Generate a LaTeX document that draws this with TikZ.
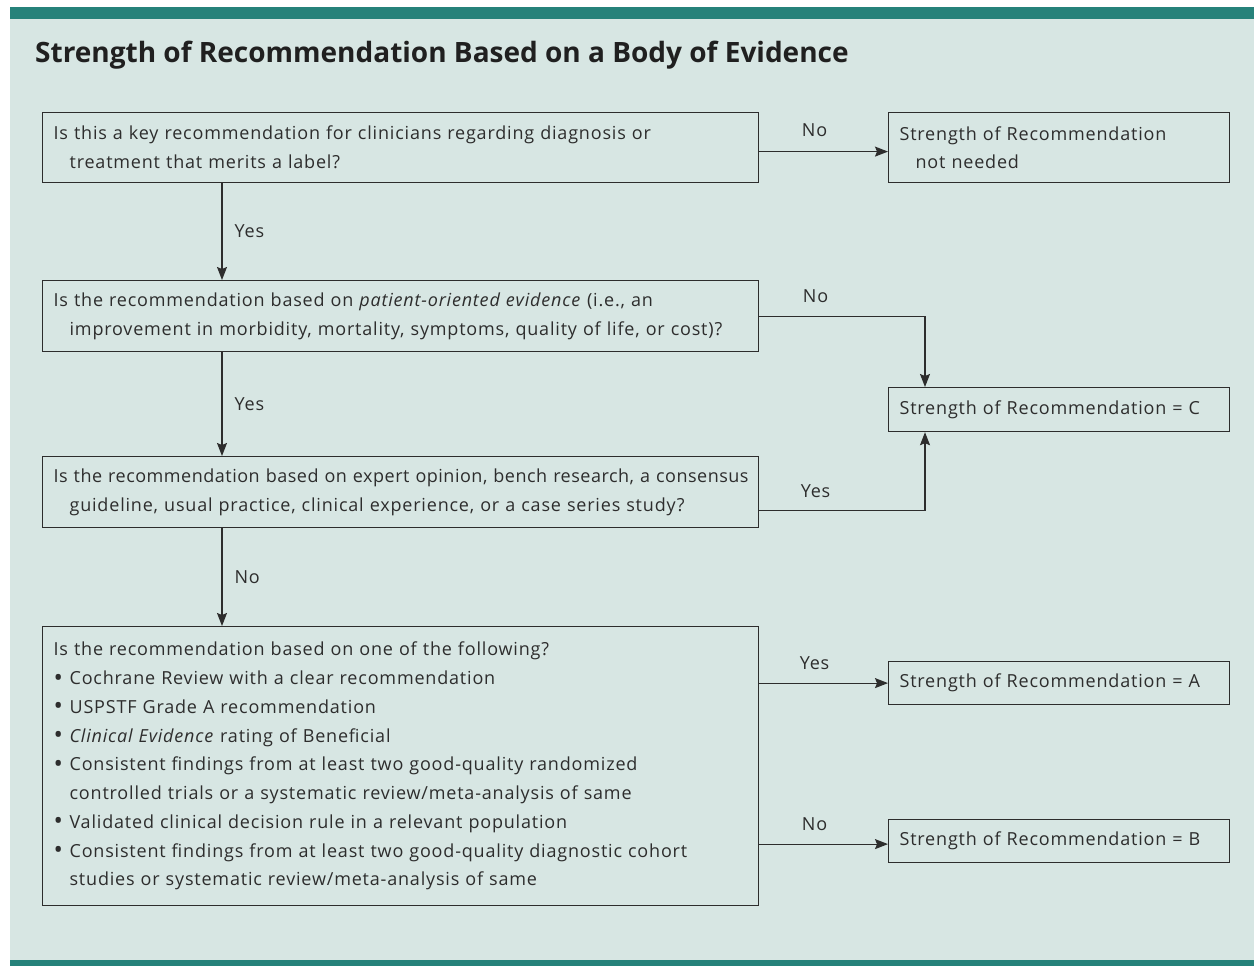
\documentclass[tikz,border=0pt]{standalone}
\usepackage{fontspec}
\setmainfont{Open Sans}
\newfontfamily\bodyfont[LetterSpace=4.5]{Open Sans}
\newfontfamily\tightfont[LetterSpace=2.8]{Open Sans}
\usetikzlibrary{positioning,arrows.meta}
\definecolor{panelbg}{RGB}{215,230,227}
\definecolor{barteal}{RGB}{38,130,122}
\definecolor{ink}{RGB}{45,45,45}
\newcommand{\bul}{\makebox[16pt][l]{\raisebox{-1.5pt}{\fontsize{25}{0}\selectfont\textbullet}}}
\newcommand{\ind}{\hspace*{16pt}}

\begin{document}
\begin{tikzpicture}[
    x=1pt, y=-1pt,
    box/.style={draw=ink, line width=1.2pt, anchor=north west, align=left, text=ink,
      inner xsep=11pt, inner ysep=0pt, font=\bodyfont\fontsize{18}{28.75}\selectfont},
    qbox/.style={box, text width=694pt, minimum height=71pt},
    sbox/.style={box, text width=319pt, minimum height=43pt},
    lbl/.style={inner sep=0pt, text=ink, font=\bodyfont\fontsize{18}{20}\selectfont},
    arr/.style={-{Stealth[length=13pt,width=10pt,inset=2pt]}, draw=ink, line width=1.2pt}
  ]
    \useasboundingbox (0,0) rectangle (1254,966);
    \fill[panelbg] (10,7) rectangle (1254,966);
    \fill[barteal] (10,7) rectangle (1254,19);
    \fill[barteal] (10,960) rectangle (1254,966);

    \node[anchor=base west, inner sep=0pt, text=ink!70!black, font=\fontsize{28}{32}\selectfont\bfseries] (title) at (35,63)
      {Strength of Recommendation Based on a Body of Evidence};

    % questions
    \node[qbox, minimum height=70pt] (q1) at (42,112)
      {Is this a key recommendation for clinicians regarding diagnosis or\\
       \ind treatment that merits a label?};
    \node[qbox] (q2) at (42,280)
      {Is the recommendation based on \textit{patient-oriented evidence} (i.e., an\\
       \ind improvement in morbidity, mortality, symptoms, quality of life, or cost)?};
    \node[qbox] (q3) at (42,456)
      {\mbox{\tightfont\fontsize{18}{28.75}\selectfont Is the recommendation based on expert opinion, bench research, a consensus}\\
       \ind guideline, usual practice, clinical experience, or a case series study?};
    \node[qbox, minimum height=279pt] (q4) at (42,626)
      {Is the recommendation based on one of the following?\\
       \bul Cochrane Review with a clear recommendation\\
       \bul USPSTF Grade A recommendation\\
       \bul \textit{Clinical Evidence} rating of Beneficial\\
       \bul Consistent findings from at least two good-quality randomized\\
       \ind controlled trials or a systematic review/meta-analysis of same\\
       \bul Validated clinical decision rule in a relevant population\\
       \bul Consistent findings from at least two good-quality diagnostic cohort\\
       \ind studies or systematic review/meta-analysis of same};

    % outcomes
    \node[sbox, minimum height=70pt] (none) at (888,112)
      {Strength of Recommendation\\ \ind not needed};
    \node[sbox, minimum height=44pt] (sorc) at (888,387) {Strength of Recommendation = C};
    \node[sbox] (sora) at (888,661) {Strength of Recommendation = A};
    \node[sbox] (sorb) at (888,819) {Strength of Recommendation = B};

    % connectors
    \draw[arr] ([yshift=-4pt]q1.east) -- node[lbl, anchor=base, pos=0.43, yshift=15pt] (no1) {No} ([yshift=-4pt]none.west);
    \draw[arr] ([xshift=180pt]q1.south west) -- node[lbl, anchor=west, xshift=12pt] (yes1) {Yes} ([xshift=180pt]q2.north west);
    \draw[arr] ([xshift=180pt]q2.south west) -- node[lbl, anchor=west, xshift=12pt] (yes2) {Yes} ([xshift=180pt]q3.north west);
    \draw[arr] ([xshift=180pt]q3.south west) -- node[lbl, anchor=west, xshift=12pt] (no3) {No} ([xshift=180pt]q4.north west);
    \draw[arr] (q2.east) -| node[lbl, anchor=base, pos=0.17, yshift=14pt] (no2) {No} ([xshift=37pt]sorc.north west);
    \draw[arr] ([yshift=-18.5pt]q3.east) -| node[lbl, anchor=base, pos=0.17, yshift=13pt] (yes3) {Yes} ([xshift=37pt]sorc.south west);
    \draw[arr] (q4.east |- sora.west) -- node[lbl, anchor=base, pos=0.43, yshift=14pt] (yes4) {Yes} (sora.west);
    \draw[arr] (q4.east |- sorb.west) ++(0,3) -- node[lbl, anchor=base, pos=0.43, yshift=14pt] (no4) {No} ([yshift=-3pt]sorb.west);
  \end{tikzpicture}
\end{document}
